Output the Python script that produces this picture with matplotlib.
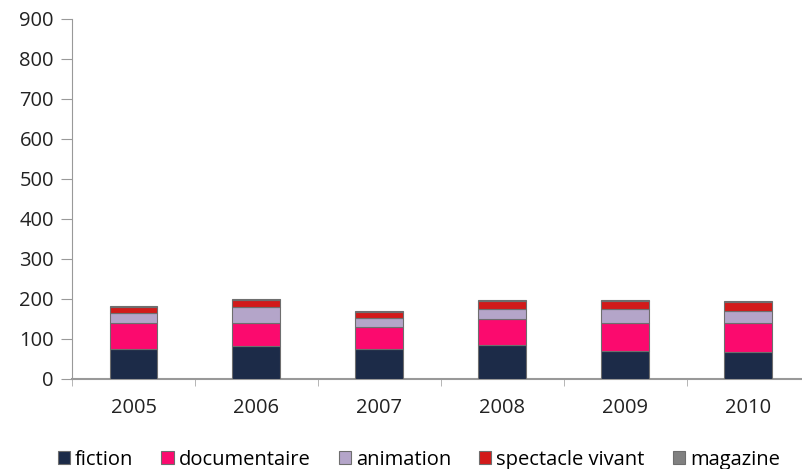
import numpy as np
import matplotlib.pyplot as plt

# Données
annees = ['2005', '2006', '2007', '2008', '2009', '2010']
fiction = [76, 82, 76, 86, 69, 67]
documentaire = [64, 58, 53, 63, 70, 73]
animation = [26, 40, 24, 27, 35, 30]
spectacle_vivant = [14, 17, 15, 19, 21, 23]
magazine = [2, 3, 2, 3, 3, 2]

series = [
    ('fiction', fiction, '#1c2b48'),
    ('documentaire', documentaire, '#fb0a6e'),
    ('animation', animation, '#b4a5c9'),
    ('spectacle vivant', spectacle_vivant, '#d21a1a'),
    ('magazine', magazine, '#808080'),
]

plt.rcParams['font.family'] = ['Open Sans', 'DejaVu Sans']

fig = plt.figure(figsize=(8.02, 4.69), dpi=100)
ax = fig.add_axes([0.0898, 0.192, 0.92, 0.7676])

x = np.arange(len(annees))
bas = np.zeros(len(annees))
for nom, vals, couleur in series:
    ax.bar(x, vals, bottom=bas, width=0.39, color=couleur, edgecolor='#6e6e6e',
           linewidth=0.8, label=nom, zorder=3)
    bas += np.array(vals)

ax.set_xlim(-0.5, len(annees) - 0.5)
ax.set_ylim(0, 900)
ax.set_yticks(range(0, 901, 100))
ax.set_xticks(x)
ax.set_xticklabels(annees)
ax.set_xticks(np.arange(-0.5, len(annees), 1), minor=True)
ax.tick_params(axis='x', which='major', length=0, pad=14, labelsize=14.5, labelcolor='#222222')
ax.tick_params(axis='x', which='minor', length=5, color='#aaaaaa')
ax.tick_params(axis='y', length=8, color='#999999', labelsize=14.5, pad=5, labelcolor='#222222')

for cote in ['top', 'right']:
    ax.spines[cote].set_visible(False)
ax.spines['left'].set_color('#999999')
ax.spines['bottom'].set_color('#999999')
ax.spines['bottom'].set_linewidth(1.5)

ax.legend(loc='center', bbox_to_anchor=(0.47, -0.225), ncol=5, frameon=False,
          fontsize=14.5, handlelength=0.6, handleheight=0.6, handletextpad=0.25,
          columnspacing=1.4)

plt.savefig('out.png', dpi=100)
